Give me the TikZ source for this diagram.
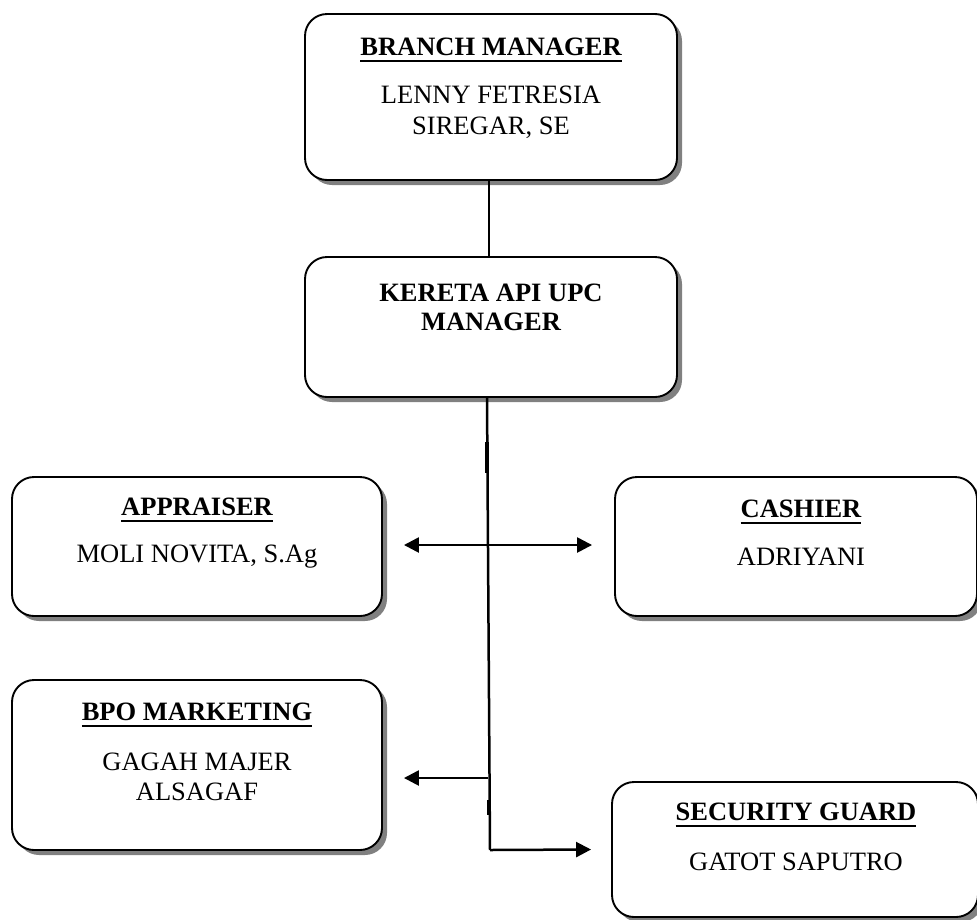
\documentclass[tikz,border=0pt]{standalone}
\usepackage{fontspec}
\setmainfont{Liberation Serif}
\newcommand{\myul}[1]{\setbox0=\hbox{#1}\leavevmode\rlap{\vrule width\wd0 height -3.8pt depth 5.8pt}\box0}
\usetikzlibrary{arrows.meta,shadows,calc}
\tikzset{
  box/.style={draw, line width=1.9pt, rounded corners=22pt, fill=white,
    drop shadow={shadow xshift=5pt, shadow yshift=-5pt, fill=black!50, opacity=1},
    inner sep=0pt},
  lbl/.style={align=center, inner sep=0pt, font=\fontsize{26.5}{31}\selectfont},
  lbls/.style={align=center, inner sep=0pt, font=\fontsize{26.5}{30}\selectfont},
  conn/.style={line width=2.5pt},
  arr/.style={conn, -{Triangle[length=15pt,width=15pt]}},
  darr/.style={conn, {Triangle[length=15pt,width=15pt]}-{Triangle[length=15pt,width=15pt]}},
  blob/.style={line width=3.8pt},
}
\begin{document}
\begin{tikzpicture}[x=1pt,y=1pt]
\useasboundingbox (0,0) rectangle (977,-919);
% boxes
\node[box, minimum width=372pt, minimum height=166pt] (bm) at (491,-97) {};
\node[box, minimum width=372pt, minimum height=140pt] (ka) at (491,-327) {};
\node[box, minimum width=370pt, minimum height=139pt] (ap) at (197,-546.5) {};
\node[box, minimum width=362pt, minimum height=139pt] (ca) at (796,-546.5) {};
\node[box, minimum width=370pt, minimum height=170pt] (bpo) at (197,-765) {};
\node[box, minimum width=366pt, minimum height=135pt] (sg) at (795,-849.5) {};
% labels
\node[lbl] (bmt) at (491,-50) {\textbf{\myul{BRANCH MANAGER}}};
\node[lbl] (bmn) at (491,-112.5) {LENNY FETRESIA\\SIREGAR, SE};
\node[lbl, font=\fontsize{26.5}{29}\selectfont\bfseries] (kat) at (491,-307.5) {KERETA API UPC\\MANAGER};
\node[lbls] (apt) at (197,-510) {\textbf{\myul{APPRAISER}}};
\node[lbls] (apn) at (197,-557) {MOLI NOVITA, S.Ag};
\node[lbls] (cat) at (801,-512) {\textbf{\myul{CASHIER}}};
\node[lbls] (can) at (801,-557) {ADRIYANI};
\node[lbls] (bpot) at (197,-715) {\textbf{\myul{BPO MARKETING}}};
\node[lbls] (bpon) at (197,-777) {GAGAH MAJER\\ALSAGAF};
\node[lbls] (sgt) at (796,-815) {\textbf{\myul{SECURITY GUARD}}};
\node[lbls] (sgn) at (796,-862) {GATOT SAPUTRO};
% connectors
\coordinate (bend) at (490,-850);
\coordinate (bpoj) at (488,-778);
\draw[conn] ([xshift=-2pt]bm.south) -- ([xshift=-2pt]ka.north);
\draw[conn] ([xshift=-4pt]ka.south) -- (bend);
\draw[arr] (bend) -- ([xshift=-20pt]sg.west);
\draw[blob] (487,-442) -- (487,-473);
\draw[blob] (489,-800) -- (489,-815);
\draw[darr] ([xshift=21pt,yshift=1.5pt]ap.east) -- ([xshift=-22pt,yshift=1.5pt]ca.west);
\draw[arr] (bpoj) -- ($(bpo.east)+(21pt,-13pt)$);
\end{tikzpicture}
\end{document}
